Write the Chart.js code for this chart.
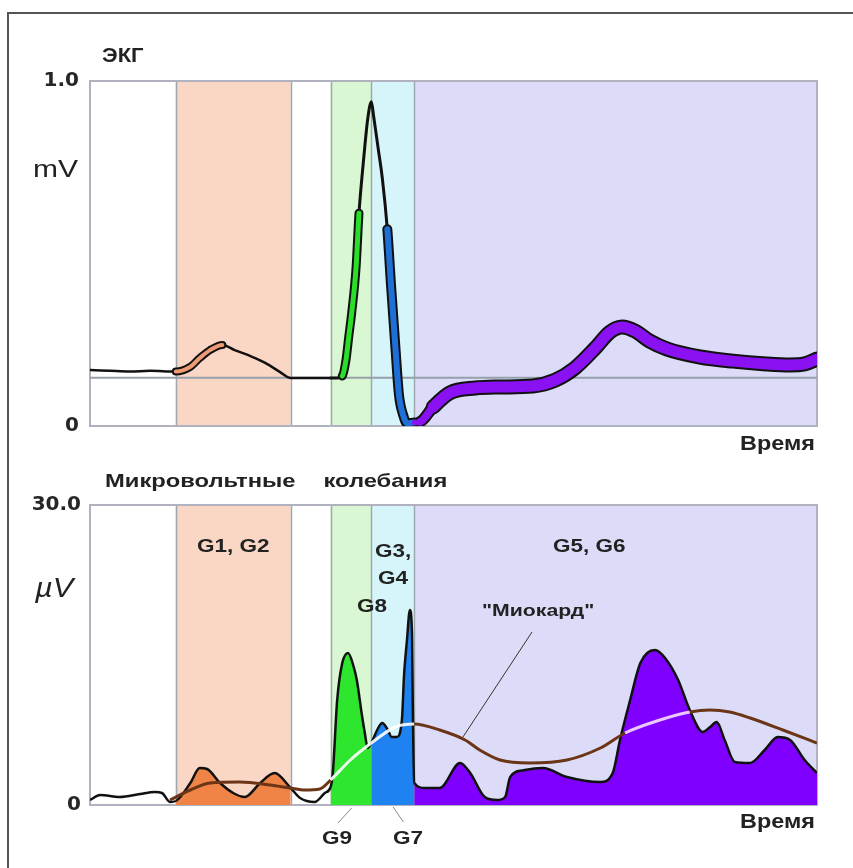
<!DOCTYPE html>
<html>
<head>
<meta charset="utf-8">
<script src="https://cdn.jsdelivr.net/npm/chart.js@4.4.1/dist/chart.umd.min.js"></script>
<style>
body { margin: 0; background: #fff; }
#wrap { position: relative; width: 853px; height: 868px; overflow: hidden; background: #fff; }
#frame { position: absolute; left: 7px; top: 12px; width: 900px; height: 900px; border-left: 2px solid #555; border-top: 2px solid #555; }
canvas { position: absolute; left: 0; }
#ecg { top: 0; }
#micro { top: 460px; }
.lbl { position: absolute; font-family: "Liberation Sans", Arial, sans-serif; font-weight: bold; color: #222; line-height: 1; white-space: nowrap; transform-origin: 0 0; transform: scaleX(1.25); }
.rt { transform-origin: 100% 0; }
</style>
</head>
<body>
<div id="wrap">
  <div id="frame"></div>
  <canvas id="ecg" width="853" height="460"></canvas>
  <canvas id="micro" width="853" height="408"></canvas>

  <div class="lbl" style="left:102px;top:45px;font-size:20px;transform:scaleX(1.1)">ЭКГ</div>
  <div class="lbl" style="left:33px;top:157px;font-size:24px;font-weight:normal">mV</div>
  <div class="lbl rt" style="right:38px;top:433px;font-size:20px;transform:scaleX(1.17)">Время</div>

  <div class="lbl" style="left:105px;top:471px;font-size:19px;word-spacing:17px">Микровольтные колебания</div>
  <div class="lbl" style="left:35px;top:574px;font-size:28px;font-weight:normal;font-style:italic;transform:scaleX(1.1)">µV</div>
  <div class="lbl" style="left:197px;top:537px;font-size:18px">G1, G2</div>
  <div class="lbl" style="left:375px;top:542px;font-size:18px">G3,</div>
  <div class="lbl" style="left:378px;top:569px;font-size:18px">G4</div>
  <div class="lbl" style="left:357px;top:597px;font-size:18px">G8</div>
  <div class="lbl" style="left:553px;top:537px;font-size:18px">G5, G6</div>
  <div class="lbl" style="left:482px;top:602px;font-size:17px">"Миокард"</div>
  <div class="lbl" style="left:322px;top:829px;font-size:18px">G9</div>
  <div class="lbl" style="left:393px;top:829px;font-size:18px">G7</div>
  <div class="lbl rt" style="right:38px;top:811px;font-size:20px;transform:scaleX(1.17)">Время</div>
</div>

<script>
// time axis is in % of the cardiac cycle shown (0..100)

// ECG bands: P, QR, RS, ST-T
var bandFrom = [11.8, 33.1, 38.7, 44.6];
var bandTo = [27.6, 38.7, 44.6, 100];
var bandColors = ["#fad6c5", "#d9f7d2", "#d6f5fa", "#dcdcf8"];

// top: ECG, mV
var ecgT = [0, 2.75, 5.5, 8.25, 11.8, 13.75, 15.1, 16.5, 18.2, 19.9, 22.0, 24.1, 26.1, 27.6,
    33.1, 34.0, 34.7, 35.2, 35.6, 36.0, 36.6, 37.0, 37.4, 37.8, 38.2, 38.7, 39.0, 39.6, 40.2, 40.9,
    41.4, 42.0, 42.5, 43.1, 43.6, 44.6, 45.4, 47.2, 49.5, 53.0, 56.4, 60.9, 64.0, 66.7, 69.5, 71.5,
    73.2, 75.0, 77.0, 79.4, 83.9, 88.4, 93.0, 96.3, 98.3, 100];
var ecgMv = [0.162, 0.160, 0.158, 0.160, 0.158, 0.171, 0.197, 0.220, 0.235, 0.220, 0.203, 0.183, 0.157, 0.139,
    0.139, 0.139, 0.145, 0.19, 0.26, 0.328, 0.46, 0.617, 0.72, 0.81, 0.89, 0.94, 0.90, 0.81, 0.72, 0.57,
    0.41, 0.23, 0.09, 0.03, 0.008, 0.01, 0.012, 0.055, 0.096, 0.11, 0.113, 0.116, 0.133, 0.168, 0.226, 0.272,
    0.287, 0.275, 0.246, 0.223, 0.2, 0.188, 0.18, 0.177, 0.18, 0.194];
var ecgBaseline = 0.14;
// coloured parts of the ECG trace
var traceFrom = [11.8, 34.7, 40.7, 44.6];
var traceTo = [18.2, 37.0, 44.6, 100];
var traceColors = ["#ee9a74", "#2adf2a", "#1f6fd8", "#8a12f2"];
var traceWidths = [4, 5, 6, 11];

// bottom: microvolt oscillations, uV
var microT = [0, 1.4, 4.1, 6.9, 8.9, 9.9, 11.0, 11.8, 13.8, 15.1, 16.1, 17.9, 19.7, 21.3, 23.4, 25.4, 27.6,
    28.9, 30.9, 32.3, 33.1, 33.4, 34.0, 34.7, 35.5, 36.2, 36.7, 37.4, 37.8, 38.2, 38.7,
    39.5, 40.2, 40.9, 41.5, 42.2, 42.9, 43.2, 43.6, 44.0, 44.3, 44.4, 44.6,
    46.1, 48.1, 50.9, 52.3, 54.3, 56.0, 57.1, 57.8, 59.8, 62.3, 65.6, 70.2, 71.9, 72.9, 74.3, 75.7,
    77.7, 79.1, 80.9, 82.5, 84.3, 85.3, 86.2, 87.3, 88.7, 90.8, 92.8, 94.6, 96.3, 98.3, 100];
var microUv = [0.5, 1.0, 0.8, 1.1, 1.3, 1.2, 0.3, 0.4, 2.2, 3.7, 3.6, 2.2, 1.2, 0.8, 2.2, 3.2, 1.7,
    0.7, 0.3, 1.2, 1.8, 3.2, 10.5, 14.2, 15.2, 14.0, 12.5, 9.0, 7.2, 5.7, 6.2,
    7.5, 8.2, 7.6, 6.8, 6.8, 8.5, 13.0, 16.5, 19.5, 17.0, 10.0, 2.2,
    1.7, 1.7, 4.2, 3.2, 0.8, 0.5, 0.8, 2.8, 3.5, 3.7, 2.8, 2.3, 3.2, 6.5, 10.5, 14.2,
    15.5, 14.7, 12.5, 9.5, 7.3, 7.8, 8.3, 6.5, 4.3, 4.2, 5.5, 6.8, 6.5, 4.5, 3.2];
var microFills = ["#f08446", "#2ee62e", "#1e82f0", "#8000ff"];

// "Миокард" curve
var myoT = [11.0, 13.8, 16.5, 20.6, 24.8, 27.5, 29.6, 31.6, 33.1, 35.8, 38.7, 42.0, 44.6, 48.1, 51.6,
    53.6, 56.4, 60.5, 65.6, 70.2, 73.6, 78.4, 82.5, 85.3, 88.0, 90.8, 95.3, 100];
var myoUv = [0.5, 1.5, 2.2, 2.3, 2.0, 1.7, 1.5, 1.6, 2.5, 4.5, 6.2, 7.8, 8.1, 7.5, 6.5,
    5.5, 4.5, 4.2, 4.5, 5.7, 7.2, 8.5, 9.3, 9.5, 9.3, 8.7, 7.5, 6.2];

// leader lines [t0, v0, t1, v1]
var leaders = [[60.8, 17.3, 51.3, 6.8], [36.0, -0.3, 34.1, -1.8], [41.7, -0.2, 43.1, -1.7]];

function pts(ts, vs) {
    return ts.map((t, i) => ({ x: t, y: vs[i] }));
}
function interp(ts, vs, t) {
    for (var i = 1; i < ts.length; i++) {
        if (t <= ts[i]) {
            var k = (t - ts[i - 1]) / (ts[i] - ts[i - 1]);
            return vs[i - 1] + k * (vs[i] - vs[i - 1]);
        }
    }
    return vs[vs.length - 1];
}
function bandIndex(t, from, to) {
    for (var i = 0; i < from.length; i++) {
        if (t >= from[i] && t <= to[i]) return i;
    }
    return -1;
}
function mid(c) {
    return (c.p0.parsed.x + c.p1.parsed.x) / 2;
}
// width of the coloured trace, thinner where the T segment starts
function traceWidth(t) {
    var i = bandIndex(t, traceFrom, traceTo);
    if (i < 0) return 0;
    if (i === 3) return Math.min(traceWidths[3], 4 + (t - traceFrom[3]) * 2.2);
    return traceWidths[i];
}

var bandsPlugin = {
    id: "bands",
    beforeDatasetsDraw(chart) {
        var ctx = chart.ctx, a = chart.chartArea, x = chart.scales.x;
        ctx.save();
        bandFrom.forEach((f, i) => {
            var x0 = x.getPixelForValue(f), x1 = x.getPixelForValue(bandTo[i]);
            ctx.fillStyle = bandColors[i];
            ctx.fillRect(x0, a.top, x1 - x0, a.bottom - a.top);
        });
        ctx.strokeStyle = "#9ea6b0";
        ctx.lineWidth = 1.5;
        bandFrom.concat([27.6]).forEach((f) => {
            var px = Math.round(x.getPixelForValue(f)) + 0.5;
            ctx.beginPath();
            ctx.moveTo(px, a.top);
            ctx.lineTo(px, a.bottom);
            ctx.stroke();
        });
        ctx.strokeStyle = "#b0b3bf";
        ctx.lineWidth = 2;
        ctx.strokeRect(a.left, a.top, a.right - a.left, a.bottom - a.top);
        ctx.restore();
    },
};

var leaderPlugin = {
    id: "leaders",
    afterDatasetsDraw(chart) {
        if (chart.canvas.id !== "micro") return;
        var ctx = chart.ctx, x = chart.scales.x, y = chart.scales.y;
        ctx.save();
        leaders.forEach((l, i) => {
            ctx.strokeStyle = i === 0 ? "#333" : "#888";
            ctx.lineWidth = 1;
            ctx.beginPath();
            ctx.moveTo(x.getPixelForValue(l[0]), y.getPixelForValue(l[1]));
            ctx.lineTo(x.getPixelForValue(l[2]), y.getPixelForValue(l[3]));
            ctx.stroke();
        });
        ctx.restore();
    },
};

function baseOptions(ymax, padTop, padBottom, tickPad) {
    return {
        responsive: false,
        animation: false,
        layout: { padding: { top: padTop, right: 36, bottom: padBottom, left: 0 } },
        plugins: { legend: { display: false }, tooltip: { enabled: false } },
        elements: { point: { radius: 0 }, line: { cubicInterpolationMode: "monotone" } },
        scales: {
            x: { type: "linear", min: 0, max: 100, display: false },
            y: {
                min: 0,
                max: ymax,
                grid: { display: false },
                border: { display: false },
                afterFit: (s) => { s.width = 90; },
                ticks: {
                    stepSize: ymax,
                    padding: tickPad,
                    color: "#262626",
                    font: { family: "DejaVu Sans", size: 20, weight: "bold" },
                    callback: (v) => (v === 0 ? "0" : v.toFixed(1)),
                },
            },
        },
    };
}

Chart.register(bandsPlugin, leaderPlugin);

//- ECG -
new Chart(document.getElementById("ecg"), {
    type: "line",
    data: {
        datasets: [
            {
                data: [{ x: 0, y: ecgBaseline }, { x: 100, y: ecgBaseline }],
                borderColor: "#97a0aa",
                borderWidth: 2,
                order: 3,
            },
            {
                data: pts(ecgT, ecgMv),
                borderColor: "#111",
                borderWidth: 2.5,
                borderCapStyle: "round",
                borderJoinStyle: "round",
                order: 2,
                segment: {
                    borderWidth: (c) => {
                        var t = mid(c), w = traceWidth(t);
                        if (w > 0) return w + 4;
                        return t > 33 && t < 45 ? 3 : 2.5;
                    },
                },
            },
            {
                data: pts(ecgT, ecgMv),
                borderColor: "rgba(0,0,0,0)",
                borderWidth: 4,
                borderCapStyle: "round",
                borderJoinStyle: "round",
                order: 1,
                segment: {
                    borderColor: (c) => {
                        var i = bandIndex(mid(c), traceFrom, traceTo);
                        return i < 0 ? "rgba(0,0,0,0)" : traceColors[i];
                    },
                    borderWidth: (c) => Math.max(traceWidth(mid(c)), 1),
                },
            },
        ],
    },
    options: baseOptions(1, 81, 34, 3),
});

//- microvolt oscillations -
new Chart(document.getElementById("micro"), {
    type: "line",
    data: {
        datasets: [
            {
                data: pts(microT, microUv),
                borderColor: "#111",
                borderWidth: 2.5,
                fill: "origin",
                backgroundColor: "rgba(0,0,0,0)",
                order: 2,
                segment: {
                    backgroundColor: (c) => {
                        var i = bandIndex(mid(c), bandFrom, bandTo);
                        return i < 0 ? "rgba(0,0,0,0)" : microFills[i];
                    },
                },
            },
            {
                data: pts(myoT, myoUv),
                borderColor: "#6b3516",
                borderWidth: 3,
                order: 1,
                segment: {
                    borderColor: (c) => {
                        var t = mid(c);
                        if (t >= 33.1 && t <= 44.6) return "rgba(255,255,255,0.9)";
                        if (t > 44.6 && interp(microT, microUv, t) > interp(myoT, myoUv, t)) return "#eac8ff";
                        return "#6b3516";
                    },
                },
            },
        ],
    },
    options: baseOptions(30, 45, 63, 1),
});
</script>
</body>
</html>
